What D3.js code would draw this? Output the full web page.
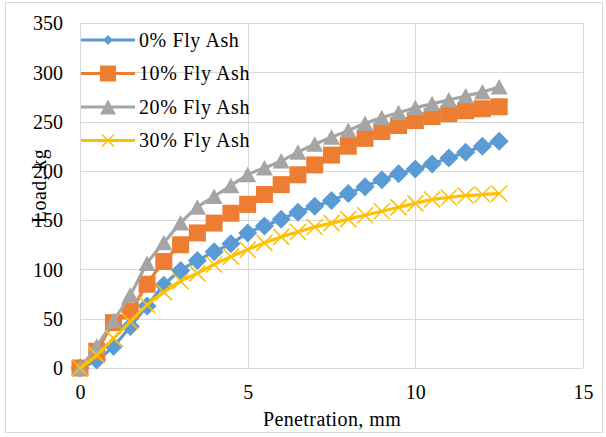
<!DOCTYPE html>
<html><head><meta charset="utf-8">
<script src="https://cdn.jsdelivr.net/npm/d3@7"></script>
<style>
body{margin:0;background:#fff;}
svg text{fill:#000;}
</style></head>
<body><svg id="chart" width="606" height="437"></svg>
<script>
const penetration = [0,0.5,1,1.5,2,2.5,3,3.5,4,4.5,5,5.5,6,6.5,7,7.5,8,8.5,9,9.5,10,10.5,11,11.5,12,12.5];
const flyAsh0  = [0,8,22,42,63,84,99,109,118,126,137,144,151,158,164,170,177,184,191,197,202,207,213,219,225,230];
const flyAsh10 = [0,17,46,58,85,108,125,137,147,157,166,176,186,196,206,216,225,233,240,246,251,255,258,261,263,265];
const flyAsh20 = [0,22,48,74,106,127,147,163,174,185,196,203,210,219,227,234,241,248,254,259,264,268,272,276,280,285];
const flyAsh30 = [0,13,30,47,64,77,88,96,105,113,120,127,133,138,143,147,151,155,159,163,167,171,173,175,176,177];
const seriesNames = ["0% Fly Ash","10% Fly Ash","20% Fly Ash","30% Fly Ash"];
const xTicks = [0,5,10,15];
const yTicks = [0,50,100,150,200,250,300,350];
const xTitle = "Penetration, mm";
const yTitle = "Load, kg";

const series = [
  {name: seriesNames[0], values: flyAsh0,  color: "#5B9BD5", marker: "diamond"},
  {name: seriesNames[1], values: flyAsh10, color: "#ED7D31", marker: "square"},
  {name: seriesNames[2], values: flyAsh20, color: "#A5A5A5", marker: "triangle"},
  {name: seriesNames[3], values: flyAsh30, color: "#FFC000", marker: "x"}
];

const FONT = '"Liberation Serif","Times New Roman",serif';
const svg = d3.select("#chart");
const L = 80, R = 583, T = 23, B = 368;
const x = d3.scaleLinear().domain([0,15]).range([L,R]);
const y = d3.scaleLinear().domain([0,350]).range([B,T]);

svg.append("rect").attr("x",5.5).attr("y",2.5).attr("width",597).attr("height",430)
  .attr("fill","#fff").attr("stroke","#d9d9d9").attr("stroke-width",1);

svg.append("g").selectAll("line").data(yTicks).join("line")
  .attr("x1",L).attr("x2",R).attr("y1",d=>Math.round(y(d))+0.5).attr("y2",d=>Math.round(y(d))+0.5)
  .attr("stroke","#d9d9d9").attr("stroke-width",1);
svg.append("g").selectAll("line").data(xTicks).join("line")
  .attr("y1",T).attr("y2",B).attr("x1",d=>Math.round(x(d))+0.5).attr("x2",d=>Math.round(x(d))+0.5)
  .attr("stroke","#d9d9d9").attr("stroke-width",1);

const xAxis = d3.axisBottom(x).tickValues(xTicks).tickSize(0).tickPadding(0).tickFormat(d3.format("d"));
const gx = svg.append("g").attr("transform",`translate(0,${B})`).call(xAxis).attr("font-family",FONT).attr("font-size",20);
gx.select(".domain").remove();
gx.selectAll("text").attr("dy",null).attr("y",31);

const yAxis = d3.axisLeft(y).tickValues(yTicks).tickSize(0).tickPadding(0).tickFormat(d3.format("d"));
const gy = svg.append("g").attr("transform",`translate(63,0)`).call(yAxis).attr("font-family",FONT).attr("font-size",20);
gy.select(".domain").remove();
gy.selectAll("text").attr("dy","0.34em").attr("x",0);

svg.append("text").attr("x",332).attr("y",426).attr("text-anchor","middle")
  .attr("font-family",FONT).attr("font-size",20).attr("letter-spacing",0.4).text(xTitle);
svg.append("text").attr("transform","translate(46,186) rotate(-90)").attr("text-anchor","middle")
  .attr("font-family",FONT).attr("font-size",20).attr("letter-spacing",0.4).text(yTitle);

function drawMarker(g, type, color) {
  if (type === "diamond") {
    g.append("path").attr("d","M0,-9.5L9.5,0L0,9.5L-9.5,0Z").attr("fill",color);
  } else if (type === "square") {
    g.append("rect").attr("x",-8.5).attr("y",-8.5).attr("width",17).attr("height",17).attr("fill",color);
  } else if (type === "triangle") {
    g.append("path").attr("d","M0,-8L8.5,7.5L-8.5,7.5Z").attr("fill",color);
  } else if (type === "x") {
    g.append("path").attr("d","M-8,-8L8,8M-8,8L8,-8").attr("stroke",color).attr("stroke-width",1.6).attr("fill","none");
  }
}

const line = d3.line().x(d=>x(d[0])).y(d=>y(d[1])).curve(d3.curveMonotoneX);

series.forEach(s => {
  const pts = penetration.map((p,i)=>[p,s.values[i]]);
  const g = svg.append("g");
  g.append("path").datum(pts).attr("d",line).attr("fill","none")
    .attr("stroke",s.color).attr("stroke-width",3.2).attr("stroke-linejoin","round");
  g.selectAll("g.m").data(pts).join("g").attr("class","m")
    .attr("transform",d=>`translate(${x(d[0])},${y(d[1])})`)
    .each(function(){ drawMarker(d3.select(this), s.marker, s.color); });
});

const lg = svg.append("g");
series.forEach((s,i) => {
  const cy = 40 + i*33.5;
  const row = lg.append("g");
  row.append("line").attr("x1",81).attr("x2",135).attr("y1",cy).attr("y2",cy)
    .attr("stroke",s.color).attr("stroke-width",3.2);
  const m = row.append("g").attr("transform",`translate(108,${cy})`);
  if (s.marker === "diamond") m.append("path").attr("d","M0,-5L5,0L0,5L-5,0Z").attr("fill",s.color);
  else if (s.marker === "square") m.append("rect").attr("x",-8).attr("y",-8).attr("width",16).attr("height",16).attr("fill",s.color);
  else if (s.marker === "triangle") m.append("path").attr("d","M0,-7.5L8,7.5L-8,7.5Z").attr("fill",s.color);
  else m.append("path").attr("d","M-6,-6L6,6M-6,6L6,-6").attr("stroke",s.color).attr("stroke-width",1.6);
  row.append("text").attr("x",139).attr("y",cy).attr("dy","0.34em")
    .attr("font-family",FONT).attr("font-size",20).attr("letter-spacing",0.6).text(s.name);
});
</script></body></html>
